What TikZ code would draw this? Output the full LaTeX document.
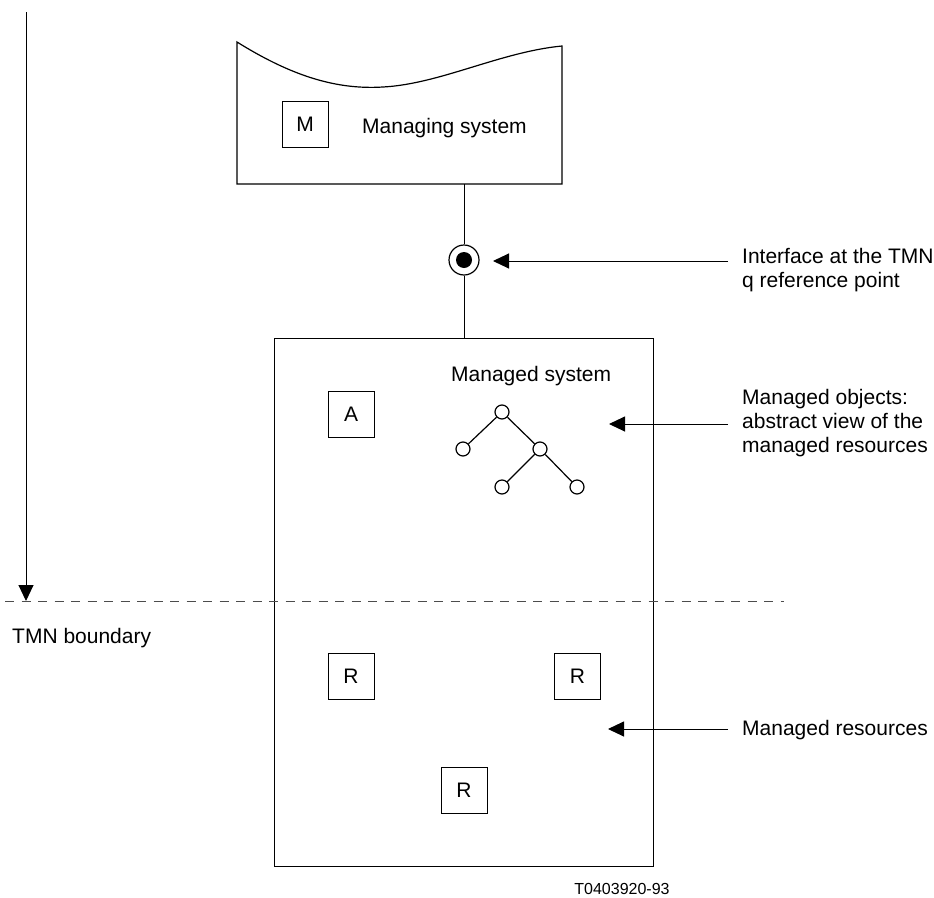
\documentclass[tikz,border=0pt]{standalone}
\usepackage{fontspec}
\setmainfont{Liberation Sans}
\usetikzlibrary{arrows.meta}
\begin{document}
\begin{tikzpicture}[x=1pt,y=-1pt,
  every node/.style={font=\fontsize{21}{24}\selectfont},
  lbl/.style={anchor=base west, inner sep=0, align=left},
  sbox/.style={draw, line width=1pt, minimum size=46pt, inner sep=0},
  obj/.style={circle, draw, line width=1.2pt, minimum size=14pt, inner sep=0},
  line/.style={line width=1pt},
  arr/.style={line width=1pt, -{Triangle[length=16pt,width=15pt]}},
  bound/.style={line width=1pt, draw=black!70, dash pattern=on 9pt off 7.5pt}]
\useasboundingbox (0,0) rectangle (934,897);

% managing system with wavy top edge
\draw[line width=1.2pt] (237,42) .. controls (290,75) and (335,90) .. (383,87)
  .. controls (440,84) and (500,52) .. (562,46) -- (562,184) -- (237,184) -- cycle;
\coordinate (msysb) at (464,184);
\node[sbox] (M) at (305,124.5) {M};
\node[lbl] (msyslbl) at (362,133) {Managing system};

% interface at the q reference point
\node[circle, draw, line width=1.2pt, minimum size=30pt, inner sep=0] (ifc) at (464,260) {};
\node[circle, fill=black, minimum size=16pt, inner sep=0] (ifcdot) at (ifc) {};

% managed system
\node[draw, line width=1.2pt, minimum width=379pt, minimum height=528pt,
  anchor=north west, inner sep=0] (mgd) at (274,338) {};
\node[lbl] (mgdlbl) at (451,381) {Managed system};
\node[sbox] (A) at (351,414.5) {A};

% managed objects tree
\node[obj] (o1) at (502,412) {};
\node[obj] (o2) at (463,449) {};
\node[obj] (o3) at (540,449) {};
\node[obj] (o4) at (502,487) {};
\node[obj] (o5) at (577,487) {};
\draw[line width=1.2pt] (o1) -- (o2) (o1) -- (o3) (o3) -- (o4) (o3) -- (o5);

% managed resources
\node[sbox] (R1) at (351,676.5) {R};
\node[sbox] (R2) at (577.5,676.5) {R};
\node[sbox] (R3) at (464,790) {R};

% connectors
\draw[line] (msysb) -- (msysb |- ifc.north);
\draw[line] (ifc.south) -- (ifc.south |- mgd.north);

% TMN boundary
\coordinate (vtop) at (26,12);
\coordinate (vbot) at (26,601);
\draw[arr] (vtop) -- (vbot);
\coordinate (bl) at (5,601);
\coordinate (br) at (784,601);
\draw[bound] (bl) -- (br);
\node[lbl] (tmnlbl) at (12,643) {TMN boundary};

% callouts (multi-line labels are placed by the baseline of their last line)
\coordinate (c1s) at (728,261);
\coordinate (c1t) at (493,261);
\draw[arr] (c1s) -- (c1t);
\node[lbl] (c1lbl) at (742,287) {Interface at the TMN\\q reference point};

\coordinate (c2s) at (728,424);
\coordinate (c2t) at (609,424);
\draw[arr] (c2s) -- (c2t);
\node[lbl] (c2lbl) at (742,452) {Managed objects:\\abstract view of the\\managed resources};

\coordinate (c3s) at (728,729);
\coordinate (c3t) at (608,729);
\draw[arr] (c3s) -- (c3t);
\node[lbl] (c3lbl) at (742,735) {Managed resources};

\node[anchor=base, inner sep=0, font=\fontsize{16}{18}\selectfont] (tag) at (622,894) {T0403920-93};
\end{tikzpicture}
\end{document}
